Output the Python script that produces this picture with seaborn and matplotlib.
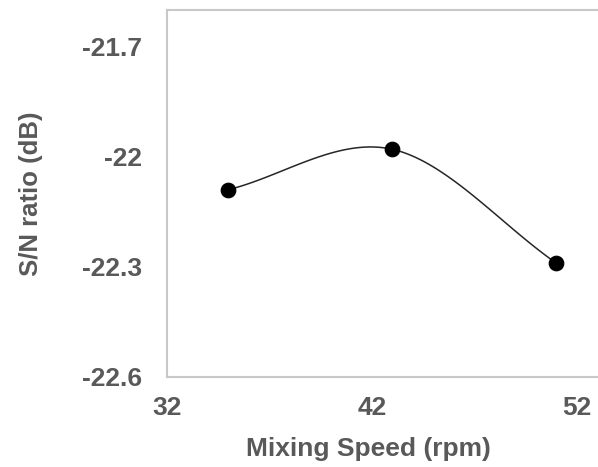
import numpy as np
import pandas as pd
import matplotlib.pyplot as plt
import seaborn as sns

# datos
speed = [35, 43, 51]
sn_ratio = [-22.09, -21.98, -22.29]
x_ticks = [32, 42, 52]
y_ticks = [-22.6, -22.3, -22.0, -21.7]
y_tick_labels = ['-22.6', '-22.3', '-22', '-21.7']

sns.set_style("white")
plt.rcParams['font.family'] = ['Liberation Sans', 'DejaVu Sans']
plt.rcParams['font.weight'] = 'bold'

# curva suavizada tipo Catmull-Rom (como la línea suavizada de Excel)
def suavizar(x, y, n=60):
    x = np.asarray(x, float)
    y = np.asarray(y, float)
    px = np.concatenate([[2 * x[0] - x[1]], x, [2 * x[-1] - x[-2]]])
    py = np.concatenate([[2 * y[0] - y[1]], y, [2 * y[-1] - y[-2]]])
    xs, ys = [], []
    t = np.linspace(0, 1, n)
    for i in range(1, len(px) - 2):
        for p, out in ((px, xs), (py, ys)):
            p0, p1, p2, p3 = p[i - 1], p[i], p[i + 1], p[i + 2]
            out.extend(0.5 * (2 * p1 + (-p0 + p2) * t
                              + (2 * p0 - 5 * p1 + 4 * p2 - p3) * t ** 2
                              + (-p0 + 3 * p1 - 3 * p2 + p3) * t ** 3))
    return pd.DataFrame({'x': xs, 'y': ys})

curva = suavizar(speed, sn_ratio)
df = pd.DataFrame({'speed': speed, 'sn': sn_ratio})

fig = plt.figure(figsize=(5.98, 4.67), dpi=100)
ax = fig.add_axes([0.279, 0.193, 0.754, 0.786])

sns.lineplot(data=curva, x='x', y='y', sort=False, color='#262626', linewidth=1.1, ax=ax)
sns.scatterplot(data=df, x='speed', y='sn', color='black', s=110, edgecolor='black', zorder=3, ax=ax)

ax.set_xlim(32, 54)
ax.set_ylim(-22.6, -21.6)
ax.set_xticks(x_ticks)
ax.set_yticks(y_ticks)
ax.set_yticklabels(y_tick_labels)
ax.tick_params(axis='x', length=0, labelsize=19, labelcolor='#595959', pad=14)
ax.tick_params(axis='y', length=0, labelsize=19, labelcolor='#595959', pad=18)
for lab in ax.get_xticklabels() + ax.get_yticklabels():
    lab.set_fontweight('bold')

ax.set_xlabel('Mixing Speed (rpm)', fontsize=19, fontweight='bold', color='#595959')
ax.xaxis.set_label_coords(0.448, -0.165)
ax.set_ylabel('S/N ratio (dB)', fontsize=18.5, fontweight='bold', color='#595959', labelpad=28)

for s in ax.spines.values():
    s.set_color('#C8C8C8')
    s.set_linewidth(1.5)

plt.savefig('out.png', dpi=100)
plt.close()
